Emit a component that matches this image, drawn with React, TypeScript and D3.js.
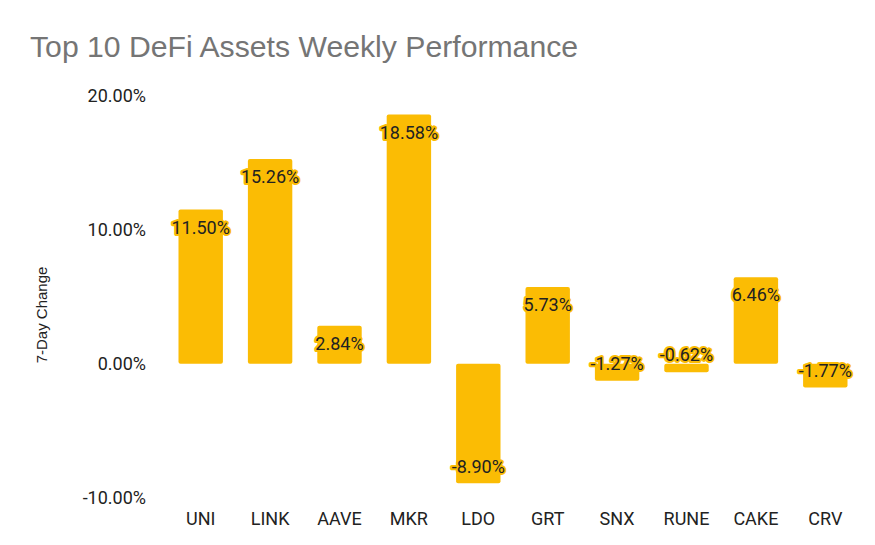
import React from 'react';
import * as d3 from 'd3';

const assets = ['UNI', 'LINK', 'AAVE', 'MKR', 'LDO', 'GRT', 'SNX', 'RUNE', 'CAKE', 'CRV'];
const weeklyChange = [11.5, 15.26, 2.84, 18.58, -8.9, 5.73, -1.27, -0.62, 6.46, -1.77];
const yTicks = [-10, 0, 10, 20];

const W = 875;
const H = 545;
const BAR = '#fbbc04';
const ARIAL = "'Liberation Sans', Arial, sans-serif";

export default function App() {
  const x = d3.scaleBand<string>()
    .domain(assets)
    .range([166, 860])
    .paddingInner(0.36)
    .paddingOuter(0.18);

  const y = d3.scaleLinear()
    .domain([-10, 20])
    .range([498, 95.5]);

  const fmt = (v: number) => `${v.toFixed(2)}%`;

  return (
    <svg width={W} height={H} style={{ display: 'block', position: 'absolute', left: 0, top: 0 }}>
      <rect width={W} height={H} fill="#fff" />
      <text x={30} y={57} fontFamily={ARIAL} fontSize={30.2} fill="#757575">
        Top 10 DeFi Assets Weekly Performance
      </text>

      <text
        transform={`translate(47,315) rotate(-90)`}
        textAnchor="middle"
        fontFamily={ARIAL}
        fontSize={15}
        fill="#222"
      >
        7-Day Change
      </text>

      {yTicks.map(t => (
        <text
          key={t}
          x={146}
          y={y(t)}
          dy="0.35em"
          textAnchor="end"
          fontFamily="Roboto, sans-serif"
          fontSize={18}
          fill="#222"
        >
          {fmt(t)}
        </text>
      ))}

      {assets.map((a, i) => {
        const v = weeklyChange[i];
        const y0 = y(0);
        const y1 = y(v);
        const top = Math.min(y0, y1);
        const h = Math.abs(y1 - y0);
        const bx = x(a) ?? 0;
        const cx = bx + x.bandwidth() / 2;
        const ly = v >= 0 ? y1 + 18 : y1 - 17;
        return (
          <g key={a}>
            <rect x={bx} y={top} width={x.bandwidth()} height={h} rx={2} fill={BAR} />
            <text
              x={cx}
              y={ly}
              dy="0.35em"
              textAnchor="middle"
              fontFamily="Roboto, sans-serif"
              fontSize={18}
              fill="#222"
              stroke={BAR}
              strokeWidth={4}
              strokeLinejoin="round"
              paintOrder="stroke"
            >
              {fmt(v)}
            </text>
            <text
              x={cx}
              y={519}
              dy="0.35em"
              textAnchor="middle"
              fontFamily="Roboto, sans-serif"
              fontSize={18}
              fill="#222"
            >
              {a}
            </text>
          </g>
        );
      })}
    </svg>
  );
}
